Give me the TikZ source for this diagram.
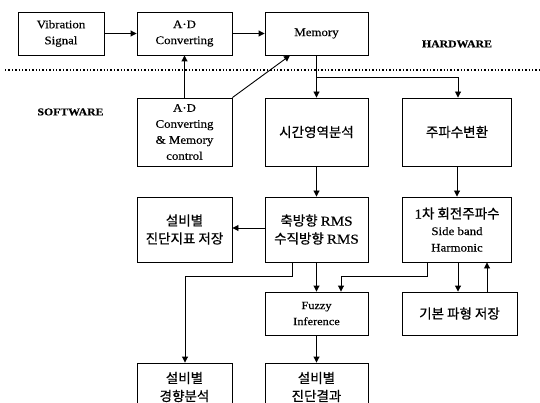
\documentclass[tikz,border=0pt]{standalone}
\usepackage{fontspec}
\setmainfont{Liberation Serif}[FakeStretch=1.12, FakeBold=0.3]
\newfontfamily\kr{Noto Sans CJK KR}[FakeBold=0.6]
\usepackage{tikz}
\usetikzlibrary{arrows.meta}
\tikzset{
    flow-box/.style = {draw=black, fill=white, line width=0.9pt, rectangle, align=center, inner sep=2pt, font=\fontsize{11.5}{16}\selectfont},
    kr-box/.style = {flow-box, font=\kr\fontsize{13.5}{18}\selectfont},
    flow-arrow/.style = {line width=0.9pt, -{Triangle[length=6pt, width=6pt]}},
    side-label/.style = {font=\fontsize{10.5}{12}\selectfont\bfseries},
}
\newcommand{\latin}[1]{{\rmfamily #1}}

\begin{document}
\begin{tikzpicture}[x=1pt, y=-1pt]
\useasboundingbox (0,0) rectangle (540,403);
\clip (0,0) rectangle (540,403);
% hardware part
\node[flow-box, minimum width=86pt, minimum height=43pt] (vib) at (61,33.5) {Vibration\\Signal};
\node[flow-box, minimum width=95pt, minimum height=43pt] (adc) at (184.5,33.5) {A·D\\Converting};
\node[flow-box, minimum width=103pt, minimum height=43pt] (mem) at (316.5,33.5) {Memory};
\node[side-label] (hw) at (457,44) {HARDWARE};
\draw[line width=1.4pt, dotted] (5,70) -- (540,70);
\node[side-label] (sw) at (70.5,112) {SOFTWARE};
% software part
\node[flow-box, minimum width=95pt, minimum height=68pt] (ctrl) at (184.5,132) {A·D\\Converting\\\& Memory\\control};
\node[kr-box, minimum width=103pt, minimum height=68pt] (time) at (316.5,132) {시간영역분석};
\node[kr-box, minimum width=109pt, minimum height=68pt] (freq) at (457,132) {주파수변환};
\node[kr-box, minimum width=95pt, minimum height=65pt] (store) at (184.5,229.5) {설비별\\진단지표 저장};
\node[kr-box, minimum width=103pt, minimum height=65pt] (rms) at (316.5,229.5) {축방향 \latin{RMS}\\수직방향 \latin{RMS}};
\node[kr-box, minimum width=109pt, minimum height=65pt, font=\kr\fontsize{13.5}{16.5}\selectfont] (harm) at (457,229.5) {\latin{1}차 회전주파수\\{\rmfamily\fontsize{11.5}{16.5}\selectfont Side band}\\{\rmfamily\fontsize{11.5}{16.5}\selectfont Harmonic}};
\node[flow-box, minimum width=103pt, minimum height=43pt, font=\fontsize{11}{16}\selectfont] (fuzzy) at (316.5,313.5) {Fuzzy\\Inference};
\node[kr-box, minimum width=115pt, minimum height=43pt] (wave) at (459.5,313.5) {기본 파형 저장};
\node[kr-box, minimum width=95pt, minimum height=48pt] (trend) at (184.5,387) {설비별\\경향분석};
\node[kr-box, minimum width=103pt, minimum height=48pt] (result) at (316.5,387) {설비별\\진단결과};
% connectors
\draw[flow-arrow] (vib) -- (adc);
\draw[flow-arrow] (adc) -- (mem);
\draw[flow-arrow] (ctrl) -- (adc);
\draw[flow-arrow] (ctrl.north east) -- (mem.south west -| 290,0);
\draw[flow-arrow] (mem) -- (time);
\draw[flow-arrow] (mem.south) |- (458,77) -- (freq.north -| 458,0);
\draw[flow-arrow] (time) -- (rms);
\draw[flow-arrow] (freq) -- (harm);
\draw[flow-arrow] (rms.west |- 0,228) -- (store.east |- 0,228);
\draw[flow-arrow] (rms.south -| 292,0) |- (185,276) -- (trend.north -| 185,0);
\draw[flow-arrow] (rms.south) -- (fuzzy.north);
\draw[flow-arrow] (harm.south -| 427,0) |- (341,276) -- (fuzzy.north -| 341,0);
\draw[flow-arrow] (harm.south -| 458,0) -- (wave.north -| 458,0);
\draw[flow-arrow] (wave.north -| 487,0) -- (harm.south -| 487,0);
\draw[flow-arrow] (fuzzy) -- (result);
\end{tikzpicture}
\end{document}
